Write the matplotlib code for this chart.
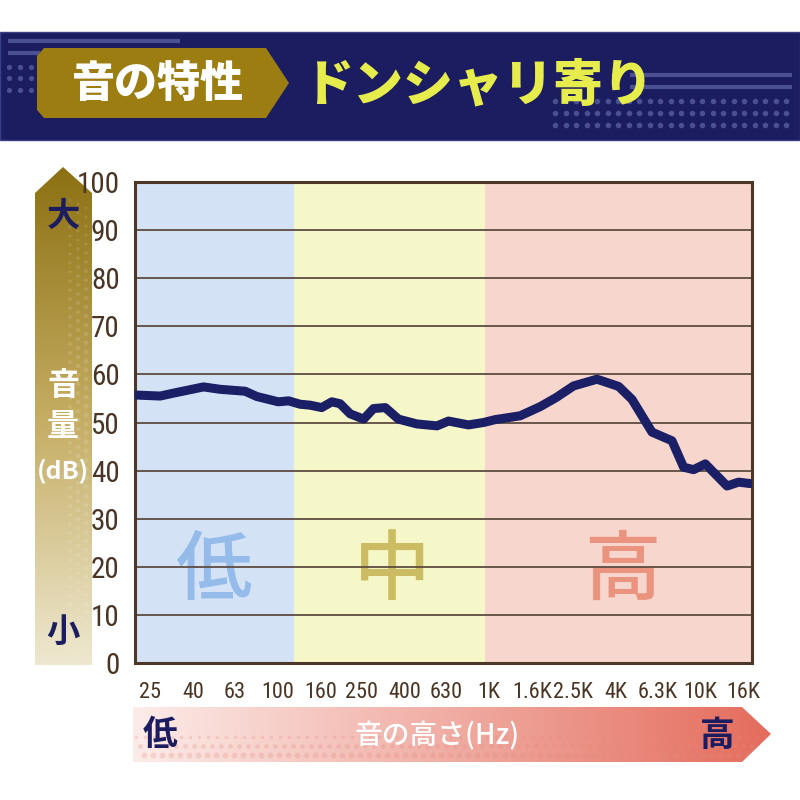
import numpy as np
import matplotlib
matplotlib.use('Agg')
import matplotlib.pyplot as plt
from matplotlib.patches import Polygon, Rectangle
from matplotlib import font_manager as fm

# ---------------- data ----------------
freq_hz = [21.6, 27.9, 32.2, 44.7, 53.6, 70.4, 80.0, 101, 113, 128, 143, 162, 181,
           198, 221, 256, 285, 324, 374, 457, 569, 645, 802, 945, 1073, 1409, 1752,
           2086, 2519, 3251, 4116, 4762, 5920, 7361, 8353, 9316, 10581, 13405, 15212, 17280]
level_db = [55.7, 55.5, 56.1, 57.4, 56.9, 56.5, 55.4, 54.3, 54.5, 53.8, 53.6, 53.1, 54.3,
            53.9, 51.8, 50.7, 52.9, 53.1, 50.7, 49.7, 49.3, 50.3, 49.5, 50.0, 50.6, 51.4, 53.3,
            55.2, 57.6, 59.0, 57.5, 54.8, 48.0, 46.2, 40.7, 40.2, 41.4, 36.8, 37.6, 37.3]

tick_hz = [25, 40, 63, 100, 160, 250, 400, 630, 1000, 1600, 2500, 4000, 6300, 10000, 16000]
tick_labels = ['25', '40', '63', '100', '160', '250', '400', '630', '1K', '1.6K', '2.5K',
               '4K', '6.3K', '10K', '16K']
y_ticks = [0, 10, 20, 30, 40, 50, 60, 70, 80, 90, 100]

band_edges_hz = [21.2, 120, 960, 17600]
band_names = ['低', '中', '高']
band_label_hz = [50, 348, 4270]
band_colors = ['#d3e3f5', '#f6f7c9', '#f7d6cd']
band_text_colors = ['#94bbe9', '#cbbb62', '#ea937f']

title_tag = '音の特性'
title_main = 'ドンシャリ寄り'
y_label_lines = ['音', '量', '(dB)']
x_label = '音の高さ(Hz)'

# ---------------- fonts ----------------
CJK = ['Noto Sans CJK JP', 'DejaVu Sans']
plt.rcParams['font.family'] = CJK

def find_condensed():
    cands = []
    for f in fm.fontManager.ttflist:
        nm = (f.fname + ' ' + f.name).lower()
        if ('condensed' in nm or 'narrow' in nm or f.stretch in ('condensed', 'semi-condensed')) \
                and 'bold' not in f.fname.lower() and 'italic' not in f.fname.lower() \
                and 'oblique' not in f.fname.lower() and 'light' not in f.fname.lower():
            cands.append(f.fname)
    pref = ['LiberationSansNarrow-Regular', 'RobotoCondensed-Regular', 'Roboto_Condensed',
            'DejaVuSansCondensed.ttf', 'OpenSans_Condensed', 'OpenSans-Condensed']
    for p in pref:
        for c in cands:
            if p.lower() in c.lower():
                return c
    return cands[0] if cands else None

cond_file = find_condensed()
if cond_file:
    NUMX = fm.FontProperties(fname=cond_file, size=16)
    NUMY = fm.FontProperties(fname=cond_file, size=21)
else:
    NUMX = fm.FontProperties(family='Roboto', size=13.5)
    NUMY = fm.FontProperties(family='Roboto', size=18)

NAVY = '#1b1d60'
LINE = '#1a1f66'
BROWN = '#4a3524'

fig = plt.figure(figsize=(8, 8), dpi=100)
fig.patch.set_facecolor('white')

# decorative background axes in pixel coordinates
bg = fig.add_axes([0, 0, 1, 1], zorder=0)
bg.set_xlim(0, 800)
bg.set_ylim(800, 0)
bg.axis('off')

# header band
bg.add_patch(Rectangle((0, 32), 800, 108, facecolor=NAVY, edgecolor='#3b3f86', lw=1, zorder=1))
deco = '#4a5092'
bg.plot([8, 180], [41, 41], color=deco, lw=3, solid_capstyle='butt', zorder=2)
bg.plot([8, 40], [53, 53], color=deco, lw=3, solid_capstyle='butt', zorder=2)
bg.plot([630, 792], [75, 75], color=deco, lw=3, solid_capstyle='butt', zorder=2)
bg.plot([630, 792], [87, 87], color=deco, lw=3, solid_capstyle='butt', zorder=2)
for yy in (67, 78, 90):
    xs = np.arange(9, 40, 11)
    bg.scatter(xs, [yy] * len(xs), s=14, color=deco, zorder=2, lw=0)
for yy in (101, 113, 125):
    xs = np.arange(555, 795, 10.5)
    bg.scatter(xs, [yy] * len(xs), s=16, color=deco, zorder=2, lw=0)

# gold tag
bg.add_patch(Polygon([(44, 48), (266, 48), (289, 83), (266, 118), (44, 118), (37, 110), (37, 56)],
                     closed=True, facecolor='#9b7d12', edgecolor='none', zorder=3))
bg.text(158, 84, title_tag, color='white', fontsize=31, fontweight='heavy',
        ha='center', va='center', zorder=4)
bg.text(478, 85, title_main, color='#e6ec4c', fontsize=36, fontweight='heavy',
        ha='center', va='center', zorder=4)

# vertical gradient arrow (volume)
vpoly = Polygon([(35, 665), (35, 193), (63, 167), (92, 193), (92, 665)], closed=True,
                facecolor='none', edgecolor='none')
bg.add_patch(vpoly)
top = np.array([140, 112, 18]) / 255
mid = np.array([196, 172, 98]) / 255
bot = np.array([238, 232, 208]) / 255
cols = []
for tv in np.linspace(0, 1, 256):
    if tv < 0.5:
        c = top + (mid - top) * (tv / 0.5)
    else:
        c = mid + (bot - mid) * ((tv - 0.5) / 0.5)
    cols.append(c)
img_v = np.array(cols)[:, None, :] * np.ones((1, 4, 1))
im = bg.imshow(img_v, extent=(35, 92, 665, 167), origin='upper', aspect='auto', zorder=1,
               interpolation='bilinear')
im.set_clip_path(vpoly)
# halftone dots on the right half of the volume arrow
for j, xx in enumerate([70, 78, 86]):
    ys = np.arange(200 + 4 * j, 660, 9)
    sizes = 4 + 10 * np.sin(np.linspace(0.2, 3.0, len(ys))) ** 2 * (0.5 + 0.25 * j)
    sc = bg.scatter(np.full(len(ys), xx), ys, s=sizes, color='white', alpha=0.12, lw=0, zorder=2)
    sc.set_clip_path(vpoly)
bg.text(63, 216, '大', color=NAVY, fontsize=24, fontweight='bold', ha='center', va='center', zorder=3)
bg.text(63, 632, '小', color=NAVY, fontsize=24, fontweight='bold', ha='center', va='center', zorder=3)
bg.text(63, 386, y_label_lines[0], color='white', fontsize=23, fontweight='bold',
        ha='center', va='center', zorder=3)
bg.text(63, 427, y_label_lines[1], color='white', fontsize=23, fontweight='bold',
        ha='center', va='center', zorder=3)
bg.text(63, 471, y_label_lines[2], color='white', fontsize=18, fontweight='bold',
        ha='center', va='center', zorder=3)

# horizontal gradient arrow (frequency)
hpoly = Polygon([(133, 707), (742, 707), (771, 734), (742, 762), (133, 762)], closed=True,
                facecolor='none', edgecolor='none')
bg.add_patch(hpoly)
left_c = np.array([252, 236, 233]) / 255
right_c = np.array([228, 108, 92]) / 255
s = np.linspace(0, 1, 256)
img_h = (left_c[None, :] + (right_c - left_c)[None, :] * s[:, None])[None, :, :] * np.ones((4, 1, 1))
im2 = bg.imshow(img_h, extent=(133, 771, 762, 707), origin='upper', aspect='auto', zorder=1,
                interpolation='bilinear')
im2.set_clip_path(hpoly)
for j, yy in enumerate([737, 746, 755]):
    xs = np.arange(136 + 4 * j, 770, 9)
    sc = bg.scatter(xs, np.full(len(xs), yy), s=6 + 6 * j, color='#e58a7c', alpha=0.25,
                    lw=0, zorder=2)
    sc.set_clip_path(hpoly)
bg.text(160, 735, '低', color=NAVY, fontsize=25, fontweight='bold', ha='center', va='center', zorder=3)
bg.text(717, 735, '高', color=NAVY, fontsize=25, fontweight='bold', ha='center', va='center', zorder=3)
bg.text(437, 736, x_label, color='white', fontsize=20, fontweight='medium',
        ha='center', va='center', zorder=3)

# ---------------- main chart ----------------
ax = fig.add_axes([135 / 800, 1 - 663 / 800, 617 / 800, 481 / 800], zorder=2)
ax.set_xscale('log')
ax.set_xlim(band_edges_hz[0], band_edges_hz[-1])
ax.set_ylim(0, 100)

for i in range(3):
    ax.axvspan(band_edges_hz[i], band_edges_hz[i + 1], color=band_colors[i], lw=0, zorder=0)
    ax.text(band_label_hz[i], 19, band_names[i], color=band_text_colors[i], fontsize=55,
            fontweight='medium', ha='center', va='center', zorder=1)

for yv in y_ticks[1:-1]:
    ax.axhline(yv, color='#5e4c40', lw=1.3, zorder=2)

ax.plot(freq_hz, level_db, color=LINE, lw=6.5, solid_joinstyle='round',
        solid_capstyle='round', zorder=3)

ax.set_xticks(tick_hz)
ax.set_xticklabels(tick_labels)
ax.xaxis.set_minor_locator(matplotlib.ticker.NullLocator())
ax.set_yticks(y_ticks)
ax.tick_params(length=0)
ax.tick_params(axis='x', pad=14)
ax.tick_params(axis='y', pad=11)
for lab in ax.get_xticklabels():
    lab.set_fontproperties(NUMX)
    lab.set_color(BROWN)
for lab in ax.get_yticklabels():
    lab.set_fontproperties(NUMY)
    lab.set_color(BROWN)

for sp in ax.spines.values():
    sp.set_color('#4d3828')
    sp.set_linewidth(2.2)

fig.savefig('out.png', dpi=100, facecolor='white')
